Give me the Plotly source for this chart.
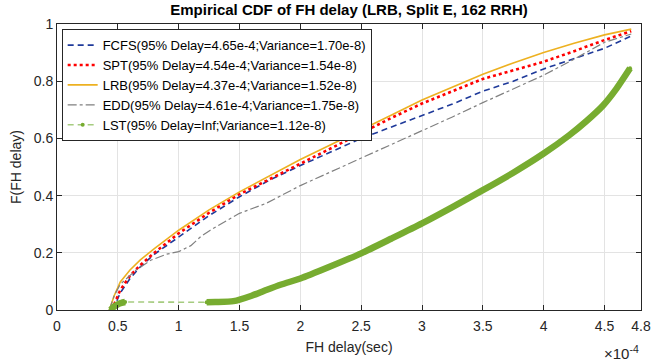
import plotly.graph_objects as go

# FH delay in units of 1e-4 sec
fcfs_x = [0.46, 0.52, 0.6, 0.685, 0.8, 1.0, 1.25, 1.5, 1.75, 2.0, 2.25, 2.5, 2.75, 3.0, 3.25, 3.5, 3.75, 4.0, 4.25, 4.5, 4.72]
fcfs_f = [0, 0.06, 0.11, 0.151, 0.195, 0.256, 0.33, 0.396, 0.455, 0.505, 0.553, 0.60, 0.64, 0.681, 0.72, 0.765, 0.80, 0.843, 0.88, 0.915, 0.958]

spt_x = [0.45, 0.52, 0.6, 0.685, 0.8, 1.0, 1.25, 1.5, 1.75, 2.0, 2.25, 2.5, 2.75, 3.0, 3.25, 3.5, 3.75, 4.0, 4.25, 4.5, 4.72]
spt_f = [0, 0.07, 0.12, 0.157, 0.2, 0.268, 0.34, 0.405, 0.458, 0.512, 0.566, 0.62, 0.672, 0.722, 0.765, 0.808, 0.838, 0.868, 0.905, 0.944, 0.975]

lrb_x = [0.43, 0.47, 0.52, 0.6, 0.685, 0.8, 1.0, 1.25, 1.5, 1.75, 2.0, 2.25, 2.5, 2.75, 3.0, 3.25, 3.5, 3.75, 4.0, 4.25, 4.5, 4.72]
lrb_f = [0, 0.05, 0.098, 0.14, 0.175, 0.215, 0.279, 0.35, 0.413, 0.47, 0.526, 0.578, 0.629, 0.682, 0.734, 0.78, 0.824, 0.864, 0.90, 0.933, 0.962, 0.982]

edd_x = [0.43, 0.47, 0.52, 0.56, 0.65, 0.77, 0.9, 1.0, 1.1, 1.18, 1.26, 1.5, 1.72, 2.0, 2.25, 2.5, 2.75, 3.0, 3.25, 3.5, 3.75, 4.0, 4.25, 4.5, 4.72]
edd_f = [0, 0.05, 0.09, 0.105, 0.14, 0.174, 0.195, 0.204, 0.225, 0.256, 0.279, 0.338, 0.373, 0.435, 0.483, 0.53, 0.578, 0.625, 0.675, 0.725, 0.772, 0.821, 0.877, 0.936, 0.965]

lst_x = [0.44, 0.47, 0.5, 0.53, 0.56, 1.23, 1.3, 1.45, 1.6, 1.72, 1.85, 2.0, 2.24, 2.5, 2.75, 3.0, 3.25, 3.5, 3.75, 4.0, 4.21, 4.35, 4.49, 4.6, 4.71]
lst_f = [0, 0.012, 0.02, 0.025, 0.028, 0.027, 0.028, 0.031, 0.05, 0.07, 0.09, 0.11, 0.151, 0.198, 0.25, 0.303, 0.36, 0.419, 0.48, 0.547, 0.611, 0.66, 0.716, 0.775, 0.845]

x_ticks = [0, 0.5, 1, 1.5, 2, 2.5, 3, 3.5, 4, 4.5, 4.8]
x_tick_labels = ["0", "0.5", "1", "1.5", "2", "2.5", "3", "3.5", "4", "4.5", "4.8"]
y_ticks = [0, 0.2, 0.4, 0.6, 0.8, 1]
y_tick_labels = ["0", "0.2", "0.4", "0.6", "0.8", "1"]

names = [
    "FCFS(95% Delay=4.65e-4;Variance=1.70e-8)",
    "SPT(95% Delay=4.54e-4;Variance=1.54e-8)",
    "LRB(95% Delay=4.37e-4;Variance=1.52e-8)",
    "EDD(95% Delay=4.61e-4;Variance=1.75e-8)",
    "LST(95% Delay=Inf;Variance=1.12e-8)",
]

FONT = "Liberation Sans, Arial, Helvetica, sans-serif"
GREEN = "#77AC30"

fig = go.Figure()
fig.add_trace(go.Scatter(x=fcfs_x, y=fcfs_f, mode="lines", name=names[0],
                         line=dict(color="#1F3A9A", width=1.6, dash="6px,4px")))
fig.add_trace(go.Scatter(x=spt_x, y=spt_f, mode="lines", name=names[1],
                         line=dict(color="#FF0000", width=2.6, dash="dot")))
fig.add_trace(go.Scatter(x=lrb_x, y=lrb_f, mode="lines", name=names[2],
                         line=dict(color="#EDB120", width=1.6)))
fig.add_trace(go.Scatter(x=edd_x, y=edd_f, mode="lines", name=names[3],
                         line=dict(color="#808080", width=1.2, dash="dashdot")))

# LST: dense marker region rendered as a thick band; sparse gap as dashed line
dense_x, dense_f = [], []
for i, (xv, fv) in enumerate(zip(lst_x, lst_f)):
    if i > 0 and xv - lst_x[i - 1] > 0.3:
        dense_x.append(None)
        dense_f.append(None)
    dense_x.append(xv)
    dense_f.append(fv)

fig.add_trace(go.Scatter(x=lst_x, y=lst_f, mode="lines+markers", name=names[4],
                         line=dict(color="#A6CC80", width=1.6, dash="6px,4px"),
                         marker=dict(color=GREEN, size=4, symbol="circle")))
fig.add_trace(go.Scatter(x=dense_x, y=dense_f, mode="lines", showlegend=False,
                         line=dict(color=GREEN, width=6.5, shape="spline", smoothing=0.6),
                         hoverinfo="skip"))

axis_common = dict(
    showline=True, linecolor="#262626", linewidth=1, mirror="ticks",
    ticks="inside", ticklen=5, tickcolor="#262626",
    showgrid=True, gridcolor="#E3E3E3", gridwidth=1, zeroline=False,
    tickfont=dict(family=FONT, size=14, color="#262626"),
    automargin=False,
)

fig.update_xaxes(range=[0, 4.8], tickvals=x_ticks, ticktext=x_tick_labels,
                 ticklabelstandoff=3,
                 title=dict(text="FH delay(sec)", font=dict(family=FONT, size=14, color="#262626"), standoff=9),
                 **axis_common)
fig.update_yaxes(range=[0, 1], tickvals=y_ticks, ticktext=y_tick_labels,
                 title=dict(text="F(FH delay)", font=dict(family=FONT, size=14, color="#262626"), standoff=8),
                 **axis_common)

fig.add_annotation(text="×10<sup>-4</sup>", xref="paper", yref="paper", x=1.0, y=-0.148,
                   xanchor="right", yanchor="middle", showarrow=False,
                   font=dict(family=FONT, size=15, color="#262626"))

fig.update_layout(
    width=652, height=364,
    margin=dict(l=57, r=11, t=24, b=54, autoexpand=False),
    paper_bgcolor="white", plot_bgcolor="white",
    title=dict(text="<b>Empirical CDF of FH delay (LRB, Split E, 162 RRH)</b>",
               x=0.5, xref="paper", xanchor="center", y=0.972, yref="container", yanchor="middle",
               font=dict(family=FONT, size=15, color="#000000")),
    legend=dict(x=0.008, y=0.982, xanchor="left", yanchor="top",
                bgcolor="white", bordercolor="#262626", borderwidth=1,
                font=dict(family=FONT, size=13, color="#000000"),
                itemwidth=30, tracegroupgap=0),
    showlegend=True,
)

fig.write_html("out.html",
               config={"displayModeBar": False},
               post_script="document.body.style.margin='0';document.body.style.padding='0';")
